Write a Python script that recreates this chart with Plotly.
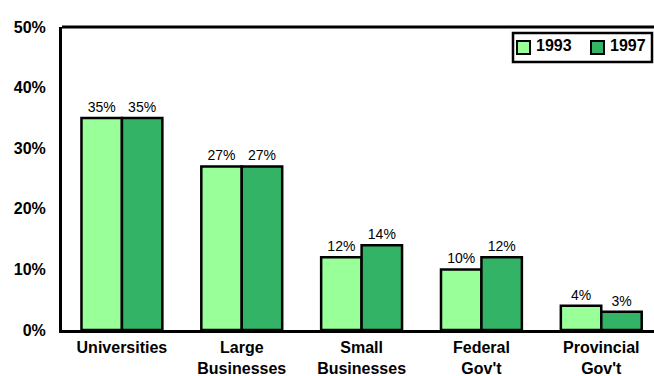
import plotly.graph_objects as go

categories = ["Universities", "Large<br>Businesses", "Small<br>Businesses", "Federal<br>Gov't", "Provincial<br>Gov't"]
series_names = ["1993", "1997"]
values_1993 = [35, 27, 12, 10, 4]
values_1997 = [35, 27, 14, 12, 3]
y_ticks = [0, 10, 20, 30, 40, 50]
y_tick_text = ["0%", "10%", "20%", "30%", "40%", "50%"]

light_green = "#99FF99"
dark_green = "#33B366"
font_family = "Liberation Sans, Arial, sans-serif"

W, H = 654, 376
M_L, M_R, M_T, M_B = 62, 0, 27, 46
PW, PH = W - M_L - M_R, H - M_T - M_B


def px(x):
    """Pixel column -> paper x."""
    return (x - M_L) / PW


def py(y):
    """Pixel row -> paper y."""
    return 1 - (y - M_T) / PH


fig = go.Figure()
for name, vals, color in zip(series_names, [values_1993, values_1997], [light_green, dark_green]):
    fig.add_trace(go.Bar(
        name=name,
        x=categories,
        y=vals,
        marker=dict(color=color, line=dict(color="black", width=2.5)),
        text=[f"{v}%" for v in vals],
        textposition="outside",
        textfont=dict(family=font_family, size=14, color="black"),
        cliponaxis=False,
        showlegend=False,
    ))

# Boxed legend in the upper right corner
shapes = [
    dict(type="line", xref="paper", yref="paper", x0=0, x1=1, y0=1, y1=1,
         line=dict(color="black", width=3)),
    dict(type="rect", xref="paper", yref="paper",
         x0=px(513), x1=px(652), y0=py(62), y1=py(33),
         line=dict(color="black", width=2.5), fillcolor="white"),
]
annotations = []
for i, (name, color) in enumerate(zip(series_names, [light_green, dark_green])):
    x0 = 517 + i * 74
    shapes.append(dict(type="rect", xref="paper", yref="paper",
                       x0=px(x0), x1=px(x0 + 13), y0=py(54), y1=py(41),
                       line=dict(color="black", width=2), fillcolor=color))
    annotations.append(dict(xref="paper", yref="paper", x=px(x0 + 17), y=py(46),
                            xanchor="left", yanchor="middle", showarrow=False,
                            text=f"<b>{name}</b>",
                            font=dict(family=font_family, size=16, color="black")))

fig.update_layout(
    width=W,
    height=H,
    margin=dict(l=M_L, r=M_R, t=M_T, b=M_B),
    paper_bgcolor="white",
    plot_bgcolor="white",
    barmode="group",
    bargap=0.325,
    bargroupgap=0,
    showlegend=False,
    xaxis=dict(
        range=[-0.5, 4.44],
        showline=True,
        linecolor="black",
        linewidth=3,
        ticks="",
        tickfont=dict(family=font_family, size=16, color="black", weight="bold"),
        ticklabelstandoff=1,
    ),
    yaxis=dict(
        range=[0, 50],
        tickvals=y_ticks,
        ticktext=y_tick_text,
        showgrid=False,
        zeroline=False,
        showline=True,
        linecolor="black",
        linewidth=3,
        ticks="",
        ticklabelstandoff=10,
        tickfont=dict(family=font_family, size=16, color="black", weight="bold"),
    ),
    shapes=shapes,
    annotations=annotations,
)

fig.write_html("out.html")
